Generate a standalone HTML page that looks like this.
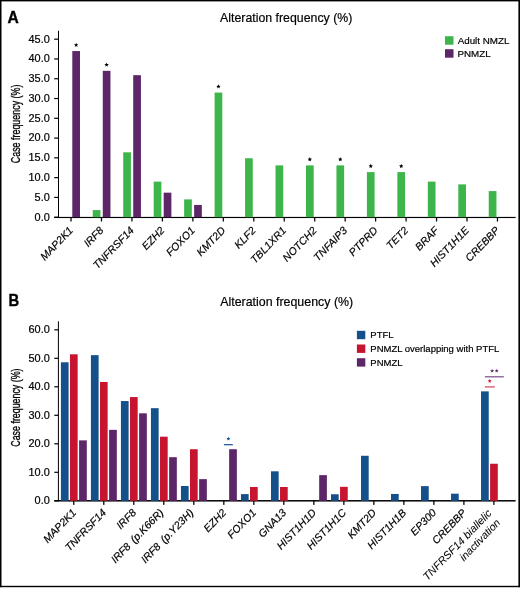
<!DOCTYPE html>
<html><head><meta charset="utf-8"><title>Alteration frequency</title>
<style>html,body{margin:0;padding:0;background:#fff;} svg{display:block;} svg{will-change:transform} text{fill:#000;stroke:#000;stroke-width:0.2px;}</style>
</head><body>
<svg width="520" height="590" viewBox="0 0 520 590">
<rect x="0" y="0" width="520" height="1.4" fill="#000"/>
<rect x="0" y="0" width="1.5" height="587.2" fill="#000"/>
<rect x="518.4" y="0" width="1.6" height="587.2" fill="#000"/>
<rect x="0" y="585.8" width="520" height="1.4" fill="#000"/>
<text transform="translate(7.6,22.7) scale(1,1)" font-family='"Liberation Sans", sans-serif' font-size="15.6" font-weight="bold" style="stroke-width:0.35px">A</text>
<text x="220.1" y="21.8" font-family='"Liberation Sans", sans-serif' font-size="12.9" textLength="132.2" lengthAdjust="spacingAndGlyphs">Alteration frequency (%)</text>
<rect x="58.0" y="30.7" width="1" height="187.0" fill="#000"/>
<rect x="54.2" y="216.9" width="461.40000000000003" height="1.15" fill="#000"/>
<rect x="54.2" y="216.60" width="4.3" height="1.2" fill="#000"/>
<text x="49.8" y="220.60" font-family='"Liberation Sans", sans-serif' font-size="10.6" text-anchor="end" textLength="15.18" lengthAdjust="spacingAndGlyphs">0.0</text>
<rect x="54.2" y="196.82" width="4.3" height="1.2" fill="#000"/>
<text x="49.8" y="200.82" font-family='"Liberation Sans", sans-serif' font-size="10.6" text-anchor="end" textLength="15.18" lengthAdjust="spacingAndGlyphs">5.0</text>
<rect x="54.2" y="177.04" width="4.3" height="1.2" fill="#000"/>
<text x="49.8" y="181.04" font-family='"Liberation Sans", sans-serif' font-size="10.6" text-anchor="end" textLength="21.25" lengthAdjust="spacingAndGlyphs">10.0</text>
<rect x="54.2" y="157.26" width="4.3" height="1.2" fill="#000"/>
<text x="49.8" y="161.26" font-family='"Liberation Sans", sans-serif' font-size="10.6" text-anchor="end" textLength="21.25" lengthAdjust="spacingAndGlyphs">15.0</text>
<rect x="54.2" y="137.48" width="4.3" height="1.2" fill="#000"/>
<text x="49.8" y="141.48" font-family='"Liberation Sans", sans-serif' font-size="10.6" text-anchor="end" textLength="21.25" lengthAdjust="spacingAndGlyphs">20.0</text>
<rect x="54.2" y="117.70" width="4.3" height="1.2" fill="#000"/>
<text x="49.8" y="121.70" font-family='"Liberation Sans", sans-serif' font-size="10.6" text-anchor="end" textLength="21.25" lengthAdjust="spacingAndGlyphs">25.0</text>
<rect x="54.2" y="97.92" width="4.3" height="1.2" fill="#000"/>
<text x="49.8" y="101.92" font-family='"Liberation Sans", sans-serif' font-size="10.6" text-anchor="end" textLength="21.25" lengthAdjust="spacingAndGlyphs">30.0</text>
<rect x="54.2" y="78.14" width="4.3" height="1.2" fill="#000"/>
<text x="49.8" y="82.14" font-family='"Liberation Sans", sans-serif' font-size="10.6" text-anchor="end" textLength="21.25" lengthAdjust="spacingAndGlyphs">35.0</text>
<rect x="54.2" y="58.36" width="4.3" height="1.2" fill="#000"/>
<text x="49.8" y="62.36" font-family='"Liberation Sans", sans-serif' font-size="10.6" text-anchor="end" textLength="21.25" lengthAdjust="spacingAndGlyphs">40.0</text>
<rect x="54.2" y="38.58" width="4.3" height="1.2" fill="#000"/>
<text x="49.8" y="42.58" font-family='"Liberation Sans", sans-serif' font-size="10.6" text-anchor="end" textLength="21.25" lengthAdjust="spacingAndGlyphs">45.0</text>
<text transform="translate(20.1,123.9) rotate(-90)" font-family='"Liberation Sans", sans-serif' font-size="13.7" text-anchor="middle" textLength="78.6" lengthAdjust="spacingAndGlyphs" style="stroke-width:0.35px">Case frequency (%)</text>
<rect x="70.40" y="217.2" width="1.25" height="4.3" fill="#000"/>
<rect x="72.30" y="51.05" width="7.7" height="166.15" fill="#5c2669"/>
<polygon points="76.15,42.75 76.76,44.21 78.34,44.34 77.13,45.37 77.50,46.91 76.15,46.08 74.80,46.91 75.17,45.37 73.96,44.34 75.54,44.21" fill="#000"/>
<text transform="translate(73.70,231.00) rotate(-46)" font-family='"Liberation Sans", sans-serif' font-size="10.6" font-style="italic" text-anchor="end">MAP2K1</text>
<rect x="100.86" y="217.2" width="1.25" height="4.3" fill="#000"/>
<rect x="92.76" y="210.08" width="7.7" height="7.12" fill="#3db54b"/>
<rect x="102.76" y="70.83" width="7.7" height="146.37" fill="#5c2669"/>
<polygon points="106.61,62.53 107.22,63.99 108.80,64.12 107.59,65.15 107.96,66.69 106.61,65.86 105.26,66.69 105.63,65.15 104.42,64.12 106.00,63.99" fill="#000"/>
<text transform="translate(104.16,231.00) rotate(-46)" font-family='"Liberation Sans", sans-serif' font-size="10.6" font-style="italic" text-anchor="end">IRF8</text>
<rect x="131.32" y="217.2" width="1.25" height="4.3" fill="#000"/>
<rect x="123.22" y="152.32" width="7.7" height="64.88" fill="#3db54b"/>
<rect x="133.22" y="75.18" width="7.7" height="142.02" fill="#5c2669"/>
<text transform="translate(134.62,231.00) rotate(-46)" font-family='"Liberation Sans", sans-serif' font-size="10.6" font-style="italic" text-anchor="end">TNFRSF14</text>
<rect x="161.78" y="217.2" width="1.25" height="4.3" fill="#000"/>
<rect x="153.68" y="181.60" width="7.7" height="35.60" fill="#3db54b"/>
<rect x="163.68" y="192.67" width="7.7" height="24.53" fill="#5c2669"/>
<text transform="translate(165.08,231.00) rotate(-46)" font-family='"Liberation Sans", sans-serif' font-size="10.6" font-style="italic" text-anchor="end">EZH2</text>
<rect x="192.24" y="217.2" width="1.25" height="4.3" fill="#000"/>
<rect x="184.14" y="199.40" width="7.7" height="17.80" fill="#3db54b"/>
<rect x="194.14" y="204.94" width="7.7" height="12.26" fill="#5c2669"/>
<text transform="translate(195.54,231.00) rotate(-46)" font-family='"Liberation Sans", sans-serif' font-size="10.6" font-style="italic" text-anchor="end">FOXO1</text>
<rect x="222.70" y="217.2" width="1.25" height="4.3" fill="#000"/>
<rect x="214.60" y="92.59" width="7.7" height="124.61" fill="#3db54b"/>
<polygon points="218.45,84.29 219.06,85.75 220.64,85.88 219.43,86.91 219.80,88.45 218.45,87.62 217.10,88.45 217.47,86.91 216.26,85.88 217.84,85.75" fill="#000"/>
<text transform="translate(226.00,231.00) rotate(-46)" font-family='"Liberation Sans", sans-serif' font-size="10.6" font-style="italic" text-anchor="end">KMT2D</text>
<rect x="253.16" y="217.2" width="1.25" height="4.3" fill="#000"/>
<rect x="245.06" y="158.26" width="7.7" height="58.94" fill="#3db54b"/>
<text transform="translate(256.46,231.00) rotate(-46)" font-family='"Liberation Sans", sans-serif' font-size="10.6" font-style="italic" text-anchor="end">KLF2</text>
<rect x="283.62" y="217.2" width="1.25" height="4.3" fill="#000"/>
<rect x="275.52" y="165.38" width="7.7" height="51.82" fill="#3db54b"/>
<text transform="translate(286.92,231.00) rotate(-46)" font-family='"Liberation Sans", sans-serif' font-size="10.6" font-style="italic" text-anchor="end">TBL1XR1</text>
<rect x="314.08" y="217.2" width="1.25" height="4.3" fill="#000"/>
<rect x="305.98" y="165.38" width="7.7" height="51.82" fill="#3db54b"/>
<polygon points="309.83,157.08 310.44,158.54 312.02,158.67 310.81,159.70 311.18,161.24 309.83,160.41 308.48,161.24 308.85,159.70 307.64,158.67 309.22,158.54" fill="#000"/>
<text transform="translate(317.38,231.00) rotate(-46)" font-family='"Liberation Sans", sans-serif' font-size="10.6" font-style="italic" text-anchor="end">NOTCH2</text>
<rect x="344.54" y="217.2" width="1.25" height="4.3" fill="#000"/>
<rect x="336.44" y="165.38" width="7.7" height="51.82" fill="#3db54b"/>
<polygon points="340.29,157.08 340.90,158.54 342.48,158.67 341.27,159.70 341.64,161.24 340.29,160.41 338.94,161.24 339.31,159.70 338.10,158.67 339.68,158.54" fill="#000"/>
<text transform="translate(347.84,231.00) rotate(-46)" font-family='"Liberation Sans", sans-serif' font-size="10.6" font-style="italic" text-anchor="end">TNFAIP3</text>
<rect x="375.00" y="217.2" width="1.25" height="4.3" fill="#000"/>
<rect x="366.90" y="172.10" width="7.7" height="45.10" fill="#3db54b"/>
<polygon points="370.75,163.80 371.36,165.26 372.94,165.39 371.73,166.42 372.10,167.96 370.75,167.14 369.40,167.96 369.77,166.42 368.56,165.39 370.14,165.26" fill="#000"/>
<text transform="translate(378.30,231.00) rotate(-46)" font-family='"Liberation Sans", sans-serif' font-size="10.6" font-style="italic" text-anchor="end">PTPRD</text>
<rect x="405.46" y="217.2" width="1.25" height="4.3" fill="#000"/>
<rect x="397.36" y="172.10" width="7.7" height="45.10" fill="#3db54b"/>
<polygon points="401.21,163.80 401.82,165.26 403.40,165.39 402.19,166.42 402.56,167.96 401.21,167.14 399.86,167.96 400.23,166.42 399.02,165.39 400.60,165.26" fill="#000"/>
<text transform="translate(408.76,231.00) rotate(-46)" font-family='"Liberation Sans", sans-serif' font-size="10.6" font-style="italic" text-anchor="end">TET2</text>
<rect x="435.92" y="217.2" width="1.25" height="4.3" fill="#000"/>
<rect x="427.82" y="181.60" width="7.7" height="35.60" fill="#3db54b"/>
<text transform="translate(439.22,231.00) rotate(-46)" font-family='"Liberation Sans", sans-serif' font-size="10.6" font-style="italic" text-anchor="end">BRAF</text>
<rect x="466.38" y="217.2" width="1.25" height="4.3" fill="#000"/>
<rect x="458.28" y="184.37" width="7.7" height="32.83" fill="#3db54b"/>
<text transform="translate(469.68,231.00) rotate(-46)" font-family='"Liberation Sans", sans-serif' font-size="10.6" font-style="italic" text-anchor="end">HIST1H1E</text>
<rect x="496.84" y="217.2" width="1.25" height="4.3" fill="#000"/>
<rect x="488.74" y="191.09" width="7.7" height="26.11" fill="#3db54b"/>
<text transform="translate(500.14,231.00) rotate(-46)" font-family='"Liberation Sans", sans-serif' font-size="10.6" font-style="italic" text-anchor="end">CREBBP</text>
<rect x="445" y="36.2" width="8.5" height="8.5" fill="#3db54b"/>
<rect x="445" y="49.2" width="8.5" height="8.5" fill="#5c2669"/>
<text x="457.7" y="43.7" font-family='"Liberation Sans", sans-serif' font-size="9.8">Adult NMZL</text>
<text x="457.5" y="56.7" font-family='"Liberation Sans", sans-serif' font-size="9.8">PNMZL</text>
<text transform="translate(8.5,305.7) scale(0.95,1)" font-family='"Liberation Sans", sans-serif' font-size="15.6" font-weight="bold" style="stroke-width:0.35px">B</text>
<text x="220.2" y="305.5" font-family='"Liberation Sans", sans-serif' font-size="12.9" textLength="133" lengthAdjust="spacingAndGlyphs">Alteration frequency (%)</text>
<rect x="57.9" y="321.3" width="1" height="180.0" fill="#000"/>
<rect x="54.3" y="500.05" width="461.3" height="1.5" fill="#000"/>
<rect x="54.3" y="500.20" width="4.1" height="1.2" fill="#000"/>
<text x="49.8" y="504.20" font-family='"Liberation Sans", sans-serif' font-size="10.6" text-anchor="end" textLength="15.18" lengthAdjust="spacingAndGlyphs">0.0</text>
<rect x="54.3" y="471.70" width="4.1" height="1.2" fill="#000"/>
<text x="49.8" y="475.70" font-family='"Liberation Sans", sans-serif' font-size="10.6" text-anchor="end" textLength="21.25" lengthAdjust="spacingAndGlyphs">10.0</text>
<rect x="54.3" y="443.20" width="4.1" height="1.2" fill="#000"/>
<text x="49.8" y="447.20" font-family='"Liberation Sans", sans-serif' font-size="10.6" text-anchor="end" textLength="21.25" lengthAdjust="spacingAndGlyphs">20.0</text>
<rect x="54.3" y="414.70" width="4.1" height="1.2" fill="#000"/>
<text x="49.8" y="418.70" font-family='"Liberation Sans", sans-serif' font-size="10.6" text-anchor="end" textLength="21.25" lengthAdjust="spacingAndGlyphs">30.0</text>
<rect x="54.3" y="386.20" width="4.1" height="1.2" fill="#000"/>
<text x="49.8" y="390.20" font-family='"Liberation Sans", sans-serif' font-size="10.6" text-anchor="end" textLength="21.25" lengthAdjust="spacingAndGlyphs">40.0</text>
<rect x="54.3" y="357.70" width="4.1" height="1.2" fill="#000"/>
<text x="49.8" y="361.70" font-family='"Liberation Sans", sans-serif' font-size="10.6" text-anchor="end" textLength="21.25" lengthAdjust="spacingAndGlyphs">50.0</text>
<rect x="54.3" y="329.20" width="4.1" height="1.2" fill="#000"/>
<text x="49.8" y="333.20" font-family='"Liberation Sans", sans-serif' font-size="10.6" text-anchor="end" textLength="21.25" lengthAdjust="spacingAndGlyphs">60.0</text>
<text transform="translate(20.4,407.6) rotate(-90)" font-family='"Liberation Sans", sans-serif' font-size="13.7" text-anchor="middle" textLength="78.2" lengthAdjust="spacingAndGlyphs" style="stroke-width:0.35px">Case frequency (%)</text>
<rect x="73.15" y="500.8" width="1.25" height="4.1" fill="#000"/>
<rect x="60.90" y="362.29" width="7.7" height="138.51" fill="#14508a"/>
<rect x="69.95" y="354.31" width="7.7" height="146.49" fill="#c8152f"/>
<rect x="79.10" y="440.38" width="7.7" height="60.42" fill="#5c2669"/>
<text transform="translate(76.75,513.30) rotate(-46)" font-family='"Liberation Sans", sans-serif' font-size="10.6" font-style="italic" text-anchor="end">MAP2K1</text>
<rect x="103.16" y="500.8" width="1.25" height="4.1" fill="#000"/>
<rect x="90.91" y="355.16" width="7.7" height="145.64" fill="#14508a"/>
<rect x="99.96" y="381.95" width="7.7" height="118.85" fill="#c8152f"/>
<rect x="109.11" y="429.84" width="7.7" height="70.97" fill="#5c2669"/>
<text transform="translate(106.76,513.30) rotate(-46)" font-family='"Liberation Sans", sans-serif' font-size="10.6" font-style="italic" text-anchor="end">TNFRSF14</text>
<rect x="133.17" y="500.8" width="1.25" height="4.1" fill="#000"/>
<rect x="120.92" y="401.05" width="7.7" height="99.75" fill="#14508a"/>
<rect x="129.97" y="397.06" width="7.7" height="103.74" fill="#c8152f"/>
<rect x="139.12" y="413.31" width="7.7" height="87.50" fill="#5c2669"/>
<text transform="translate(136.77,513.30) rotate(-46)" font-family='"Liberation Sans", sans-serif' font-size="10.6" font-style="italic" text-anchor="end">IRF8</text>
<rect x="163.18" y="500.8" width="1.25" height="4.1" fill="#000"/>
<rect x="150.93" y="408.18" width="7.7" height="92.62" fill="#14508a"/>
<rect x="159.98" y="436.68" width="7.7" height="64.12" fill="#c8152f"/>
<rect x="169.13" y="457.19" width="7.7" height="43.61" fill="#5c2669"/>
<text transform="translate(164.18,513.30) rotate(-46)" font-family='"Liberation Sans", sans-serif' font-size="10.6" font-style="italic" text-anchor="end" word-spacing="1.8">IRF8 (p.K66R)</text>
<rect x="193.19" y="500.8" width="1.25" height="4.1" fill="#000"/>
<rect x="180.94" y="485.98" width="7.7" height="14.82" fill="#14508a"/>
<rect x="189.99" y="449.22" width="7.7" height="51.59" fill="#c8152f"/>
<rect x="199.14" y="479.14" width="7.7" height="21.66" fill="#5c2669"/>
<text transform="translate(194.19,513.30) rotate(-46)" font-family='"Liberation Sans", sans-serif' font-size="10.6" font-style="italic" text-anchor="end" word-spacing="1.8">IRF8 (p.Y23H)</text>
<rect x="223.20" y="500.8" width="1.25" height="4.1" fill="#000"/>
<rect x="229.15" y="449.22" width="7.7" height="51.59" fill="#5c2669"/>
<text transform="translate(226.80,513.30) rotate(-46)" font-family='"Liberation Sans", sans-serif' font-size="10.6" font-style="italic" text-anchor="end">EZH2</text>
<rect x="253.21" y="500.8" width="1.25" height="4.1" fill="#000"/>
<rect x="240.96" y="494.10" width="7.7" height="6.70" fill="#14508a"/>
<rect x="250.01" y="486.98" width="7.7" height="13.82" fill="#c8152f"/>
<text transform="translate(256.81,513.30) rotate(-46)" font-family='"Liberation Sans", sans-serif' font-size="10.6" font-style="italic" text-anchor="end">FOXO1</text>
<rect x="283.22" y="500.8" width="1.25" height="4.1" fill="#000"/>
<rect x="270.97" y="471.30" width="7.7" height="29.50" fill="#14508a"/>
<rect x="280.02" y="486.98" width="7.7" height="13.82" fill="#c8152f"/>
<text transform="translate(286.82,513.30) rotate(-46)" font-family='"Liberation Sans", sans-serif' font-size="10.6" font-style="italic" text-anchor="end">GNA13</text>
<rect x="313.23" y="500.8" width="1.25" height="4.1" fill="#000"/>
<rect x="319.18" y="475.15" width="7.7" height="25.65" fill="#5c2669"/>
<text transform="translate(316.83,513.30) rotate(-46)" font-family='"Liberation Sans", sans-serif' font-size="10.6" font-style="italic" text-anchor="end">HIST1H1D</text>
<rect x="343.24" y="500.8" width="1.25" height="4.1" fill="#000"/>
<rect x="330.99" y="494.25" width="7.7" height="6.55" fill="#14508a"/>
<rect x="340.04" y="486.84" width="7.7" height="13.97" fill="#c8152f"/>
<text transform="translate(346.84,513.30) rotate(-46)" font-family='"Liberation Sans", sans-serif' font-size="10.6" font-style="italic" text-anchor="end">HIST1H1C</text>
<rect x="373.25" y="500.8" width="1.25" height="4.1" fill="#000"/>
<rect x="361.00" y="455.77" width="7.7" height="45.03" fill="#14508a"/>
<text transform="translate(376.85,513.30) rotate(-46)" font-family='"Liberation Sans", sans-serif' font-size="10.6" font-style="italic" text-anchor="end">KMT2D</text>
<rect x="403.26" y="500.8" width="1.25" height="4.1" fill="#000"/>
<rect x="391.01" y="493.96" width="7.7" height="6.84" fill="#14508a"/>
<text transform="translate(406.86,513.30) rotate(-46)" font-family='"Liberation Sans", sans-serif' font-size="10.6" font-style="italic" text-anchor="end">HIST1H1B</text>
<rect x="433.27" y="500.8" width="1.25" height="4.1" fill="#000"/>
<rect x="421.02" y="486.12" width="7.7" height="14.68" fill="#14508a"/>
<text transform="translate(436.87,513.30) rotate(-46)" font-family='"Liberation Sans", sans-serif' font-size="10.6" font-style="italic" text-anchor="end">EP300</text>
<rect x="463.28" y="500.8" width="1.25" height="4.1" fill="#000"/>
<rect x="451.03" y="493.68" width="7.7" height="7.12" fill="#14508a"/>
<text transform="translate(466.88,513.30) rotate(-46)" font-family='"Liberation Sans", sans-serif' font-size="10.6" font-style="italic" text-anchor="end">CREBBP</text>
<rect x="493.29" y="500.8" width="1.25" height="4.1" fill="#000"/>
<rect x="481.04" y="391.36" width="7.7" height="109.44" fill="#14508a"/>
<rect x="490.09" y="463.75" width="7.7" height="37.05" fill="#c8152f"/>
<text transform="translate(492.39,513.80) rotate(-46)" font-family='"Liberation Sans", sans-serif' font-size="10.85" font-style="italic" text-anchor="end" style="stroke-width:0.05px">TNFRSF14 biallelic</text>
<text transform="translate(500.89,523.30) rotate(-46)" font-family='"Liberation Sans", sans-serif' font-size="10.6" font-style="italic" text-anchor="end" style="stroke-width:0.05px">inactivation</text>
<polygon points="228.40,436.60 228.96,437.94 230.40,438.05 229.30,438.99 229.63,440.40 228.40,439.64 227.17,440.40 227.50,438.99 226.40,438.05 227.84,437.94" fill="#14508a"/>
<rect x="223.9" y="444.1" width="8.9" height="1.2" fill="#14508a"/>
<rect x="484.9" y="376.2" width="18.9" height="1.2" fill="#7b4a8c"/>
<polygon points="492.10,368.80 492.66,370.14 494.10,370.25 493.00,371.19 493.33,372.60 492.10,371.84 490.87,372.60 491.20,371.19 490.10,370.25 491.54,370.14" fill="#5c2669"/>
<polygon points="496.70,368.80 497.26,370.14 498.70,370.25 497.60,371.19 497.93,372.60 496.70,371.84 495.47,372.60 495.80,371.19 494.70,370.25 496.14,370.14" fill="#5c2669"/>
<rect x="484.9" y="386.3" width="9.9" height="1.2" fill="#d2435a"/>
<polygon points="489.70,378.90 490.26,380.24 491.70,380.35 490.60,381.29 490.93,382.70 489.70,381.94 488.47,382.70 488.80,381.29 487.70,380.35 489.14,380.24" fill="#c8152f"/>
<rect x="356.9" y="330.80" width="8.4" height="8.4" fill="#14508a"/>
<text x="370.3" y="338.40" font-family='"Liberation Sans", sans-serif' font-size="9.5">PTFL</text>
<rect x="356.9" y="344.50" width="8.4" height="8.4" fill="#c8152f"/>
<text x="370.3" y="352.10" font-family='"Liberation Sans", sans-serif' font-size="9.5">PNMZL overlapping with PTFL</text>
<rect x="356.9" y="358.20" width="8.4" height="8.4" fill="#5c2669"/>
<text x="370.3" y="365.80" font-family='"Liberation Sans", sans-serif' font-size="9.5">PNMZL</text>
</svg>
</body></html>
